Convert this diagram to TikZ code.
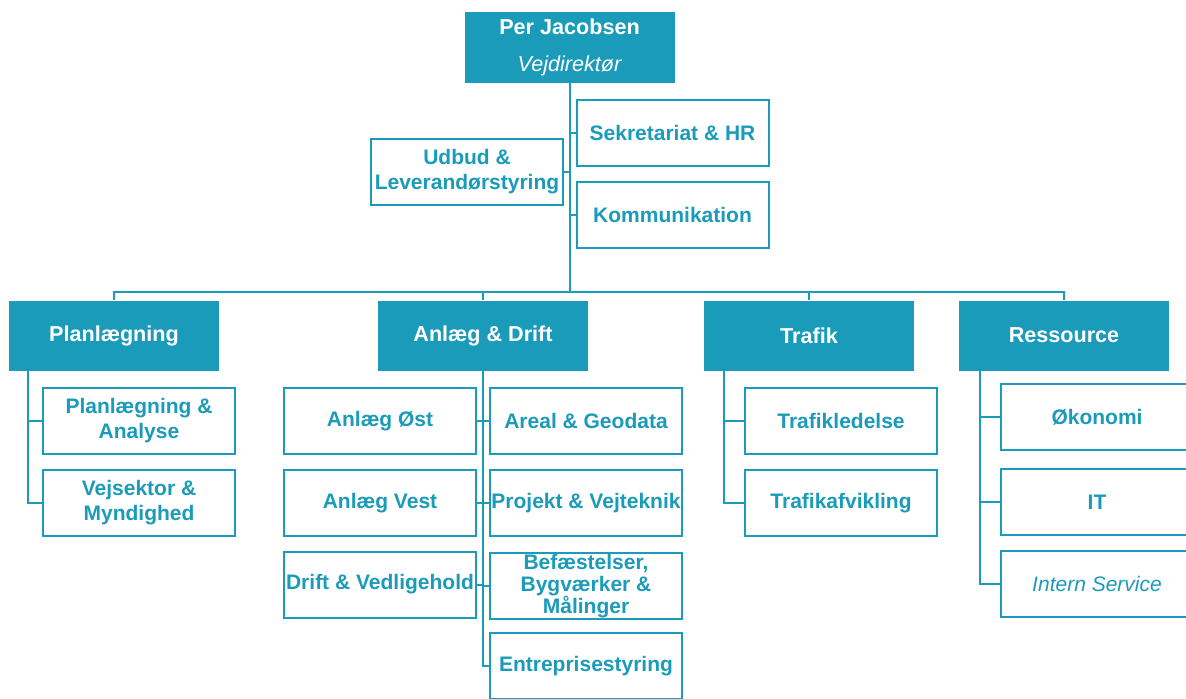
\documentclass[tikz,border=0pt]{standalone}
\usepackage{fontspec}
\setmainfont{Liberation Sans}
\definecolor{vdblue}{RGB}{27,155,186}
\begin{document}
\begin{tikzpicture}[x=0.5pt,y=-0.5pt,
	lead/.style={fill=vdblue,text=white,font=\bfseries\fontsize{10.8}{12}\selectfont,
		minimum width=105pt,minimum height=35pt,inner sep=0pt,align=center},
	unit/.style={draw=vdblue,line width=1pt,fill=white,text=vdblue,
		font=\bfseries\fontsize{10.5}{12.3}\selectfont,
		minimum width=96pt,minimum height=33pt,inner sep=0pt,align=center},
	conn/.style={draw=vdblue,line width=1pt}]
	\useasboundingbox (0,0) rectangle (1186,698);
	% top
	\node[lead,minimum height=35.5pt] (ceo) at (569.5,47.5) {Per Jacobsen\\[6.5pt]{\mdseries\itshape Vejdirektør}};
	\node[unit] (sek) at (672.5,132.5) {Sekretariat \& HR};
	\node[unit] (kom) at (672.5,214.5) {Kommunikation};
	\node[unit] (udb) at (467,171.5) {Udbud \&\\Leverandørstyring};
	\coordinate (bar) at (569.5,292);
	% divisions
	\node[lead] (plan) at (114,335.5) {Planlægning};
	\node[lead] (anl) at (483,335.5) {Anlæg \& Drift};
	\node[lead] (traf) at (809,335.5) {Trafik};
	\node[lead] (res) at (1064,335.5) {Ressource};
	% units
	\node[unit] (pa) at (139,420.5) {Planlægning \&\\Analyse};
	\node[unit] (vm) at (139,502.5) {Vejsektor \&\\Myndighed};
	\node[unit] (ao) at (380,421) {Anlæg Øst};
	\node[unit] (av) at (380,503) {Anlæg Vest};
	\node[unit] (dv) at (380,584.5) {Drift \& Vedligehold};
	\node[unit] (ag) at (586,421) {Areal \& Geodata};
	\node[unit] (pv) at (586,503) {Projekt \& Vejteknik};
	\node[unit,font=\bfseries\fontsize{10.5}{11.2}\selectfont] (bbm) at (586,586) {Befæstelser,\\Bygværker \&\\Målinger};
	\node[unit] (ent) at (586,666) {Entreprisestyring};
	\node[unit] (tl) at (841,421) {Trafikledelse};
	\node[unit] (tf) at (841,503) {Trafikafvikling};
	\node[unit] (ok) at (1097,417) {Økonomi};
	\node[unit] (it) at (1097,502) {IT};
	\node[unit,font=\mdseries\itshape\fontsize{10.5}{12.3}\selectfont] (is) at (1097,583.5) {Intern Service};
	% lines
	\draw[conn] (ceo.south) -- (bar);
	\foreach \n in {sek,kom,udb} \draw[conn] (\n) -- (\n -| bar);
	\draw[conn] (plan.north) |- (bar) -| (res.north);
	\foreach \n in {anl,traf} \draw[conn] (\n.north) -- (\n.north |- bar);
	\draw[conn] (anl.south) |- (ent);
	\foreach \n in {ao,av,dv,ag,pv,bbm} \draw[conn] (\n) -- (\n -| anl.south);
	\coordinate (pl) at ([xshift=9.5pt]plan.south west);
	\coordinate (tr) at ([xshift=10pt]traf.south west);
	\coordinate (rs) at ([xshift=10.5pt]res.south west);
	\draw[conn] (pl) |- (vm);
	\draw[conn] (pa) -- (pa -| pl);
	\draw[conn] (tr) |- (tf);
	\draw[conn] (tl) -- (tl -| tr);
	\draw[conn] (rs) |- (is);
	\foreach \n in {ok,it} \draw[conn] (\n) -- (\n -| rs);
\end{tikzpicture}
\end{document}
